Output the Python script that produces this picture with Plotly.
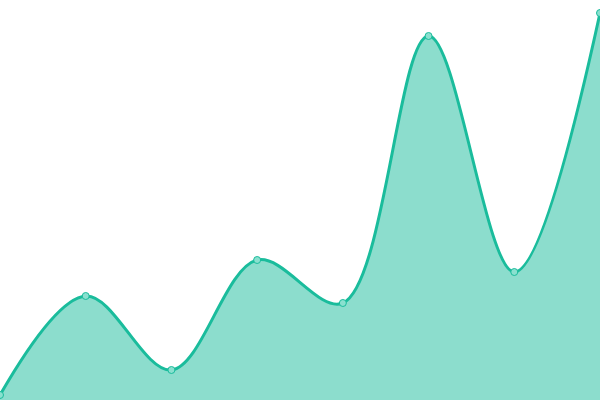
import plotly.graph_objects as go

# data
x_vals = [0, 1, 2, 3, 4, 5, 6, 7]
y_vals = [1, 20.8, 6, 28, 19.4, 72.8, 25.6, 77.4]

fig = go.Figure()
fig.add_trace(go.Scatter(
    x=x_vals, y=y_vals,
    mode="lines+markers",
    line=dict(color="#1abc9c", width=3, shape="spline", smoothing=1),
    fill="tozeroy",
    fillcolor="rgba(26,188,156,0.5)",
    marker=dict(size=7, color="#8ae0cf", line=dict(color="#1abc9c", width=1)),
    cliponaxis=False,
    hoverinfo="skip",
))
fig.update_xaxes(visible=False, range=[0, 7])
fig.update_yaxes(visible=False, range=[0, 80])
fig.update_layout(
    width=600, height=400,
    margin=dict(l=0, r=0, t=0, b=0),
    plot_bgcolor="white", paper_bgcolor="white",
    showlegend=False,
)
# drop the page's default body margin so the plot sits flush
fig.write_html("out.html", config={"displayModeBar": False},
               post_script="document.body.style.margin='0';")
